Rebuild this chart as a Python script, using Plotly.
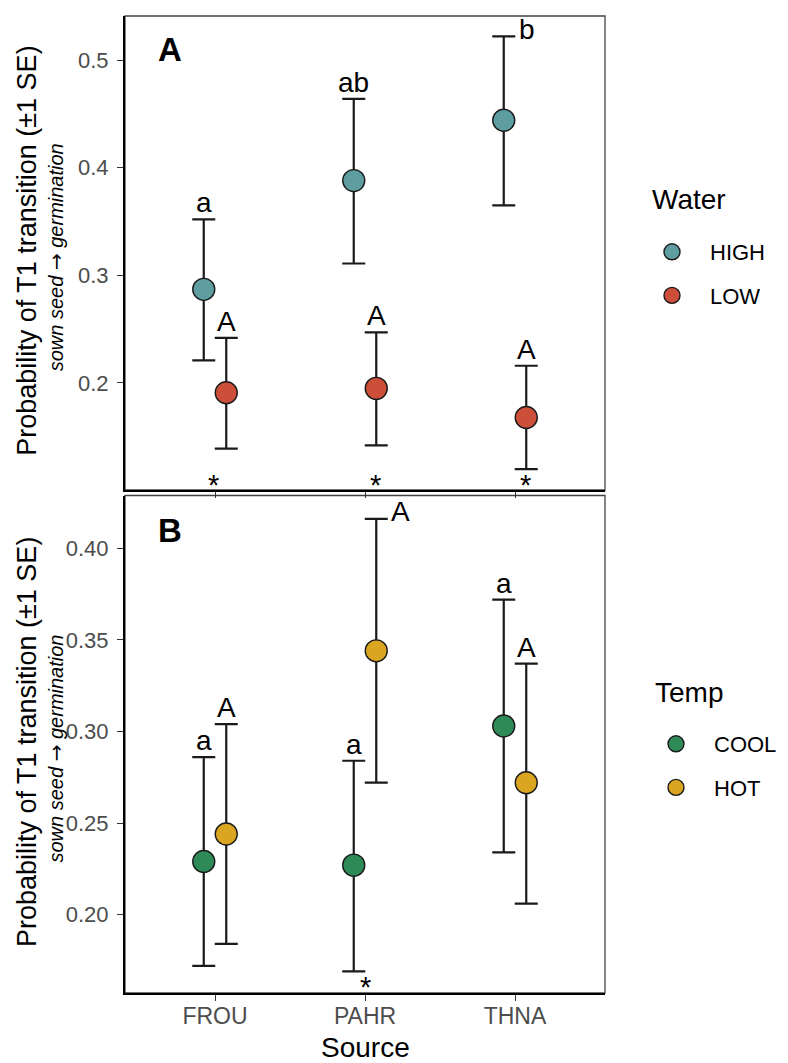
import plotly.graph_objects as go

# ---------------- data ----------------
sources = ["FROU", "PAHR", "THNA"]

# Panel A: Water
water_levels = ["HIGH", "LOW"]
high_mean = [0.287, 0.388, 0.444]
high_upper = [0.352, 0.464, 0.522]
high_lower = [0.221, 0.311, 0.365]
high_labels = ["a", "ab", "b"]

low_mean = [0.191, 0.195, 0.168]
low_upper = [0.242, 0.247, 0.216]
low_lower = [0.139, 0.142, 0.120]
low_labels = ["A", "A", "A"]

# significance stars (panel A), x as source position, y value
starsA_x = [0.99, 2.07, 3.07]
starsA_y = [0.110, 0.110, 0.110]

# Panel B: Temp
temp_levels = ["COOL", "HOT"]
cool_mean = [0.229, 0.227, 0.303]
cool_upper = [0.286, 0.284, 0.372]
cool_lower = [0.172, 0.169, 0.234]
cool_labels = ["a", "a", "a"]

hot_mean = [0.244, 0.344, 0.272]
hot_upper = [0.304, 0.416, 0.337]
hot_lower = [0.184, 0.272, 0.206]
hot_labels = ["A", "A", "A"]

starsB_x = [2.005]
starsB_y = [0.1627]

yticksA = [0.2, 0.3, 0.4, 0.5]
yticksB = [0.20, 0.25, 0.30, 0.35, 0.40]

# ---------------- style ----------------
W, H = 788, 1063
FONT = "Liberation Sans, Arial, sans-serif"
COL = {"HIGH": "#5F9EA0", "LOW": "#CD4F39", "COOL": "#2E8B57", "HOT": "#DAA520"}
DODGE = 0.075
yrangeA = [0.1006, 0.5409]
yrangeB = [0.1572, 0.4288]


def py(px):
    return 1 - px / H


xdom = [125 / W, 605 / W]
ydomA = [py(490), py(16)]
ydomB = [py(993), py(495.5)]

fig = go.Figure()
annotations = []


def add_series(name, mean, upper, lower, labels, offset, xa, ya, legend, yrange):
    xs = [i + 1 + offset for i in range(len(sources))]
    fig.add_trace(go.Scatter(
        x=xs, y=mean, mode="markers", name=name,
        xaxis=xa, yaxis=ya, legend=legend, legendgroup=name,
        marker=dict(size=22, color=COL[name], line=dict(color="#1a1a1a", width=1.4)),
        error_y=dict(type="data", symmetric=False,
                     array=[u - m for u, m in zip(upper, mean)],
                     arrayminus=[m - l for m, l in zip(mean, lower)],
                     color="#1a1a1a", thickness=2.2, width=11.5),
        hoverinfo="skip",
    ))
    span = yrange[1] - yrange[0]
    for x, u, lab in zip(xs, upper, labels):
        if u + 0.06 * span > yrange[1]:
            # no room above the cap: put label to the right of it
            annotations.append(dict(x=x, y=u, xref=xa, yref=ya, text=lab, showarrow=False,
                                    xanchor="left", yanchor="middle", xshift=13, yshift=7,
                                    font=dict(family=FONT, size=28, color="black")))
        else:
            annotations.append(dict(x=x, y=u, xref=xa, yref=ya, text=lab, showarrow=False,
                                    xanchor="center", yanchor="bottom", yshift=-1,
                                    font=dict(family=FONT, size=28, color="black")))


add_series("HIGH", high_mean, high_upper, high_lower, high_labels, -DODGE, "x", "y", "legend", yrangeA)
add_series("LOW", low_mean, low_upper, low_lower, low_labels, DODGE, "x", "y", "legend", yrangeA)
add_series("COOL", cool_mean, cool_upper, cool_lower, cool_labels, -DODGE, "x2", "y2", "legend2", yrangeB)
add_series("HOT", hot_mean, hot_upper, hot_lower, hot_labels, DODGE, "x2", "y2", "legend2", yrangeB)

for sx, sy in zip(starsA_x, starsA_y):
    annotations.append(dict(x=sx, y=sy, xref="x", yref="y", text="*", showarrow=False,
                            xanchor="center", yanchor="middle", yshift=-5,
                            font=dict(family=FONT, size=29, color="black")))
for sx, sy in zip(starsB_x, starsB_y):
    annotations.append(dict(x=sx, y=sy, xref="x2", yref="y2", text="*", showarrow=False,
                            xanchor="center", yanchor="middle", yshift=-4,
                            font=dict(family=FONT, size=29, color="black")))

# panel letters
annotations.append(dict(x=0.065, y=0.93, xref="x domain", yref="y domain", text="<b>A</b>",
                        showarrow=False, xanchor="left", yanchor="middle",
                        font=dict(family=FONT, size=33, color="black")))
annotations.append(dict(x=0.065, y=0.93, xref="x2 domain", yref="y2 domain", text="<b>B</b>",
                        showarrow=False, xanchor="left", yanchor="middle",
                        font=dict(family=FONT, size=33, color="black")))

# y-axis titles
for dom in (ydomA, ydomB):
    mid = (dom[0] + dom[1]) / 2
    annotations.append(dict(x=27 / W, y=mid + 0.002, xref="paper", yref="paper",
                            text="Probability of T1 transition (±1 SE)", textangle=-90,
                            showarrow=False, xanchor="center", yanchor="middle",
                            font=dict(family=FONT, size=27, color="black")))
    annotations.append(dict(x=56 / W, y=mid - 0.004, xref="paper", yref="paper",
                            text="<i>sown seed <span style='font-family:DejaVu Sans'>→</span> germination</i>",
                            textangle=-90,
                            showarrow=False, xanchor="center", yanchor="middle",
                            font=dict(family=FONT, size=20, color="black")))

# x-axis title
annotations.append(dict(x=(xdom[0] + xdom[1]) / 2, y=0, xref="paper", yref="paper",
                        text="Source", showarrow=False, xanchor="center", yanchor="bottom",
                        yshift=-2,
                        font=dict(family=FONT, size=28, color="black")))

# legend titles
annotations.append(dict(x=650 / W, y=py(200), xref="paper", yref="paper", text="Water",
                        showarrow=False, xanchor="left", yanchor="middle",
                        font=dict(family=FONT, size=28, color="black")))
annotations.append(dict(x=653 / W, y=py(692), xref="paper", yref="paper", text="Temp",
                        showarrow=False, xanchor="left", yanchor="middle",
                        font=dict(family=FONT, size=28, color="black")))

shapes = []
for xa, ya in (("x", "y"), ("x2", "y2")):
    shapes.append(dict(type="rect", xref=f"{xa} domain", yref=f"{ya} domain",
                       x0=0, x1=1, y0=0, y1=1, layer="below",
                       line=dict(color="#444444", width=1.3)))

axis_common = dict(showgrid=False, zeroline=False, showline=True, linecolor="black",
                   linewidth=2, ticks="outside", ticklen=6, tickwidth=1.3, tickcolor="#333333")

legend_common = dict(font=dict(family=FONT, size=22, color="black"),
                     xanchor="left", yanchor="top", bgcolor="rgba(0,0,0,0)",
                     tracegroupgap=12, itemwidth=66)

fig.update_layout(
    width=W, height=H,
    margin=dict(l=0, r=0, t=0, b=0),
    paper_bgcolor="white", plot_bgcolor="white",
    xaxis=dict(domain=xdom, anchor="y", range=[0.4, 3.6], tickvals=[1, 2, 3],
               ticktext=sources, showticklabels=False, **axis_common),
    yaxis=dict(domain=ydomA, anchor="x", range=yrangeA, tickvals=yticksA,
               ticktext=[f"{v:.1f}" for v in yticksA], ticklabelstandoff=4,
               tickfont=dict(family=FONT, size=22, color="#4D4D4D"), **axis_common),
    xaxis2=dict(domain=xdom, anchor="y2", range=[0.4, 3.6], tickvals=[1, 2, 3],
                ticktext=sources, ticklabelstandoff=-5,
                tickfont=dict(family=FONT, size=23, color="#4D4D4D"), **axis_common),
    yaxis2=dict(domain=ydomB, anchor="x2", range=yrangeB, tickvals=yticksB,
                ticktext=[f"{v:.2f}" for v in yticksB], ticklabelstandoff=4,
                tickfont=dict(family=FONT, size=22, color="#4D4D4D"), **axis_common),
    legend=dict(x=634 / W, y=py(231), **legend_common),
    legend2=dict(x=638 / W, y=py(723), **legend_common),
    annotations=annotations,
    shapes=shapes,
)

fig.write_html("out.html")
